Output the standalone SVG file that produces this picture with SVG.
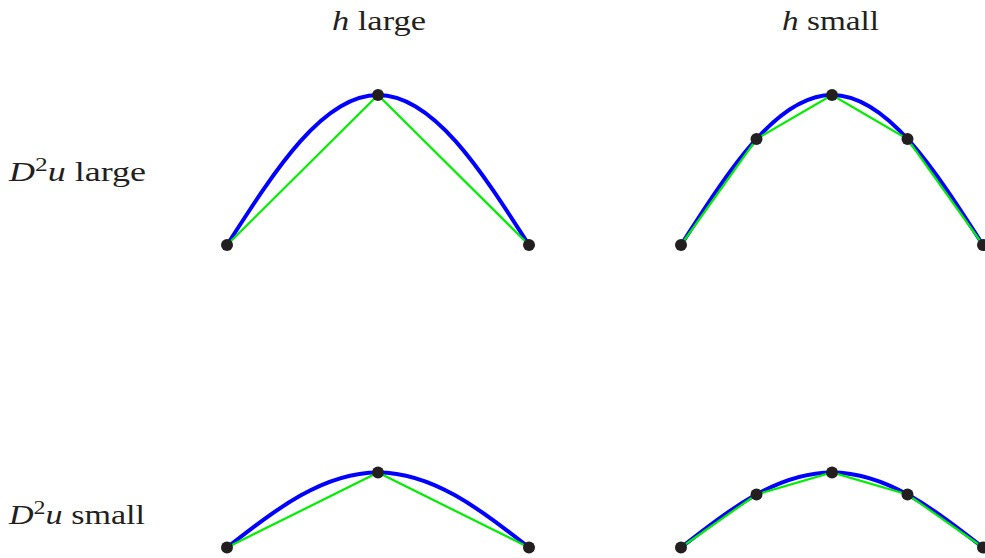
<svg xmlns="http://www.w3.org/2000/svg" width="985" height="558" viewBox="0 0 985 558">
<style>
.lbl{font-family:"Liberation Serif","DejaVu Serif",serif;font-size:27px;fill:#231f20}
.it{font-style:italic}
.curve{fill:none;stroke:#0000ff;stroke-width:4}
.interp{fill:none;stroke:#00ee00;stroke-width:2.2}
.pt{fill:#231f20}
</style>
<rect width="985" height="558" fill="#ffffff"/>
<g id="labels">
<text class="lbl" x="332" y="30" textLength="94" lengthAdjust="spacingAndGlyphs"><tspan class="it">h</tspan> large</text>
<text class="lbl" x="782" y="30" textLength="97" lengthAdjust="spacingAndGlyphs"><tspan class="it">h</tspan> small</text>
<text class="lbl" x="9" y="181" textLength="137" lengthAdjust="spacingAndGlyphs"><tspan class="it">D</tspan><tspan font-size="19" dy="-10">2</tspan><tspan class="it" dy="10">u</tspan> large</text>
<text class="lbl" x="9" y="524" textLength="136" lengthAdjust="spacingAndGlyphs"><tspan class="it">D</tspan><tspan font-size="19" dy="-10">2</tspan><tspan class="it" dy="10">u</tspan> small</text>
</g>
<g id="connectors">
<path class="curve" d="M227,245 C276.25,168.2 323.35,95 378,95 C432.65,95 479.75,168.2 529,245"/>
<path class="curve" d="M681,245 C730.25,168.2 777.35,95 832,95 C886.65,95 933.75,168.2 983,245"/>
<path class="curve" d="M227,547.5 C276.25,509.1 323.35,472.5 378,472.5 C432.65,472.5 479.75,509.1 529,547.5"/>
<path class="curve" d="M681,547.5 C730.25,509.1 777.35,472.5 832,472.5 C886.65,472.5 933.75,509.1 983,547.5"/>
<polyline class="interp" points="227,245 378,95 529,245"/>
<polyline class="interp" points="681,245 756.5,139 832,95 907.5,139 983,245"/>
<polyline class="interp" points="227,547.5 378,472.5 529,547.5"/>
<polyline class="interp" points="681,547.5 756.5,494.5 832,472.5 907.5,494.5 983,547.5"/>
</g>
<g id="node-tl-1"><circle class="pt" cx="227" cy="245" r="6"/></g>
<g id="node-tl-2"><circle class="pt" cx="378" cy="95" r="6"/></g>
<g id="node-tl-3"><circle class="pt" cx="529" cy="245" r="6"/></g>
<g id="node-tr-1"><circle class="pt" cx="681" cy="245" r="6"/></g>
<g id="node-tr-2"><circle class="pt" cx="756.5" cy="139" r="6"/></g>
<g id="node-tr-3"><circle class="pt" cx="832" cy="95" r="6"/></g>
<g id="node-tr-4"><circle class="pt" cx="907.5" cy="139" r="6"/></g>
<g id="node-tr-5"><circle class="pt" cx="983" cy="245" r="6"/></g>
<g id="node-bl-1"><circle class="pt" cx="227" cy="547.5" r="6"/></g>
<g id="node-bl-2"><circle class="pt" cx="378" cy="472.5" r="6"/></g>
<g id="node-bl-3"><circle class="pt" cx="529" cy="547.5" r="6"/></g>
<g id="node-br-1"><circle class="pt" cx="681" cy="547.5" r="6"/></g>
<g id="node-br-2"><circle class="pt" cx="756.5" cy="494.5" r="6"/></g>
<g id="node-br-3"><circle class="pt" cx="832" cy="472.5" r="6"/></g>
<g id="node-br-4"><circle class="pt" cx="907.5" cy="494.5" r="6"/></g>
<g id="node-br-5"><circle class="pt" cx="983" cy="547.5" r="6"/></g>
</svg>
